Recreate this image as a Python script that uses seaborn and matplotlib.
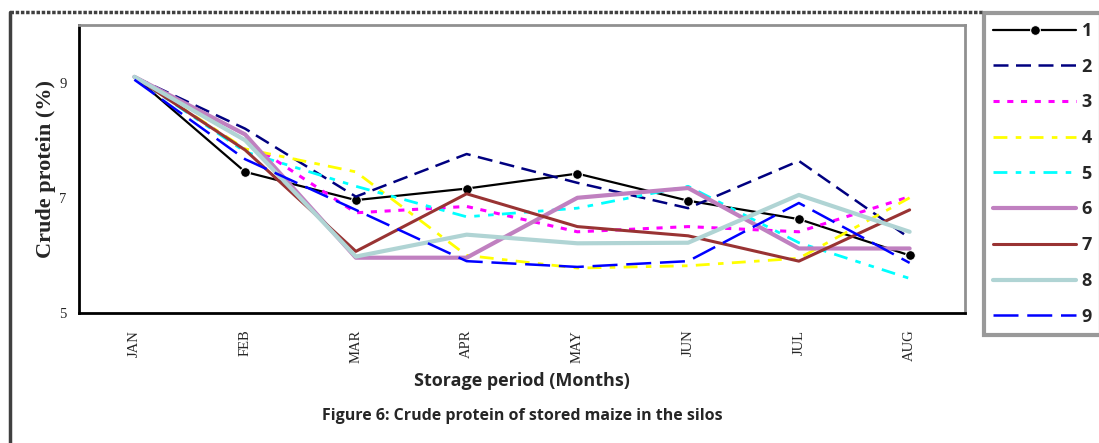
import numpy as np
import pandas as pd
import seaborn as sns
import matplotlib.pyplot as plt
from matplotlib.lines import Line2D

months = ["JAN", "FEB", "MAR", "APR", "MAY", "JUN", "JUL", "AUG"]
silos = ["1", "2", "3", "4", "5", "6", "7", "8", "9"]

s1 = [9.10, 7.45, 6.96, 7.16, 7.42, 6.95, 6.63, 6.00]
s2 = [9.10, 8.20, 7.02, 7.76, 7.26, 6.82, 7.64, 6.30]
s3 = [9.10, 8.00, 6.74, 6.85, 6.41, 6.50, 6.41, 7.02]
s4 = [9.10, 7.85, 7.45, 6.00, 5.78, 5.82, 5.95, 7.00]
s5 = [9.10, 7.80, 7.20, 6.67, 6.82, 7.20, 6.22, 5.60]
s6 = [9.10, 8.10, 5.96, 5.96, 7.00, 7.17, 6.12, 6.12]
s7 = [9.10, 7.83, 6.07, 7.07, 6.50, 6.34, 5.90, 6.79]
s8 = [9.10, 8.00, 5.98, 6.36, 6.21, 6.22, 7.05, 6.41]
s9 = [9.05, 7.67, 6.79, 5.90, 5.80, 5.90, 6.91, 5.87]
series = [s1, s2, s3, s4, s5, s6, s7, s8, s9]

df = pd.DataFrame({"month": np.tile(np.arange(len(months)), len(silos)),
                   "silo": np.repeat(silos, len(months)),
                   "cp": np.concatenate(series)})

colors = ["black", "#000080", "#FF00FF", "#FFFF00", "#00FFFF",
          "#C080C0", "#993333", "#B0D4D4", "#0000FF"]
styles = ["-", (0, (6, 3)), (0, (2, 2.5)), (0, (5, 3, 2, 3)),
          (0, (5, 3, 2, 3, 2, 3)), "-", "-", "-", (0, (10, 3.5))]
widths = [1.6, 1.8, 2.2, 2.0, 2.0, 3.0, 2.2, 3.0, 1.8]

sns.set_theme(style="white")
plt.rcParams['font.family'] = ['Liberation Serif', 'DejaVu Serif']

fig = plt.figure(figsize=(10.99, 4.43), dpi=100)
ax = fig.add_axes([79 / 1099, 1 - 313 / 443, (965 - 79) / 1099, (313 - 25) / 443])

for i, s in enumerate(silos):
    kw = {}
    if i == 0:
        kw = dict(marker="o", markersize=7, markevery=list(range(1, 8)))
    sns.lineplot(data=df[df.silo == s], x="month", y="cp", color=colors[i],
                 lw=widths[i], linestyle=styles[i], label=s, ax=ax,
                 legend=False, **kw)

ax.set_xlim(-0.5, 7.5)
ax.set_ylim(5, 10)
ax.set_yticks([5, 7, 9])
ax.set_xticks(np.arange(-0.5, 8, 1))
ax.set_xticklabels([])
ax.set_xticks(np.arange(len(months)), minor=True)
ax.set_xticklabels(months, minor=True, rotation=90, fontsize=10.5)
ax.tick_params(axis="x", which="major", direction="out", length=5, width=1.5, colors="black")
ax.tick_params(axis="x", which="minor", length=0, pad=12)
ax.tick_params(axis="y", direction="out", length=5, width=1.5, labelsize=10.5, pad=4)
for side in ["left", "bottom"]:
    ax.spines[side].set_color("black")
    ax.spines[side].set_linewidth(2)
for side in ["top", "right"]:
    ax.spines[side].set_color("#909090")
    ax.spines[side].set_linewidth(2)

ax.set_ylabel("Crude protein (%)", fontsize=16, fontweight="bold", labelpad=2)
ax.set_xlabel("")
fig.text(522 / 1099, 1 - 381 / 443, "Storage period (Months)", ha="center", va="center",
         fontsize=13, fontweight="bold", family=["Open Sans", "DejaVu Sans"])
fig.text(522 / 1099, 1 - 416 / 443, "Figure 6: Crude protein of stored maize in the silos",
         ha="center", va="center", fontsize=11.5, fontweight="bold",
         family=["Open Sans", "DejaVu Sans"])

handles, labels = ax.get_legend_handles_labels()
leg = fig.legend(handles, labels, loc="upper left", bbox_to_anchor=(984 / 1099, 1 - 13 / 443),
                 frameon=True, fancybox=False, handlelength=4.6, handletextpad=0.3,
                 labelspacing=0.98, borderpad=0.5, borderaxespad=0,
                 prop={"family": ["Open Sans", "DejaVu Sans"], "weight": "bold", "size": 13})
leg.get_frame().set_edgecolor("#808080")
leg.get_frame().set_linewidth(3)

# outer frame around the figure
fig.add_artist(Line2D([10 / 1099, 10 / 1099], [0, 1 - 12 / 443], color="#404040", lw=2.5,
                      transform=fig.transFigure))
fig.add_artist(Line2D([10 / 1099, 983 / 1099], [1 - 12 / 443, 1 - 12 / 443], color="#404040",
                      lw=2.5, linestyle=(0, (1, 0.5)), transform=fig.transFigure))

fig.savefig("out.png", dpi=100)
